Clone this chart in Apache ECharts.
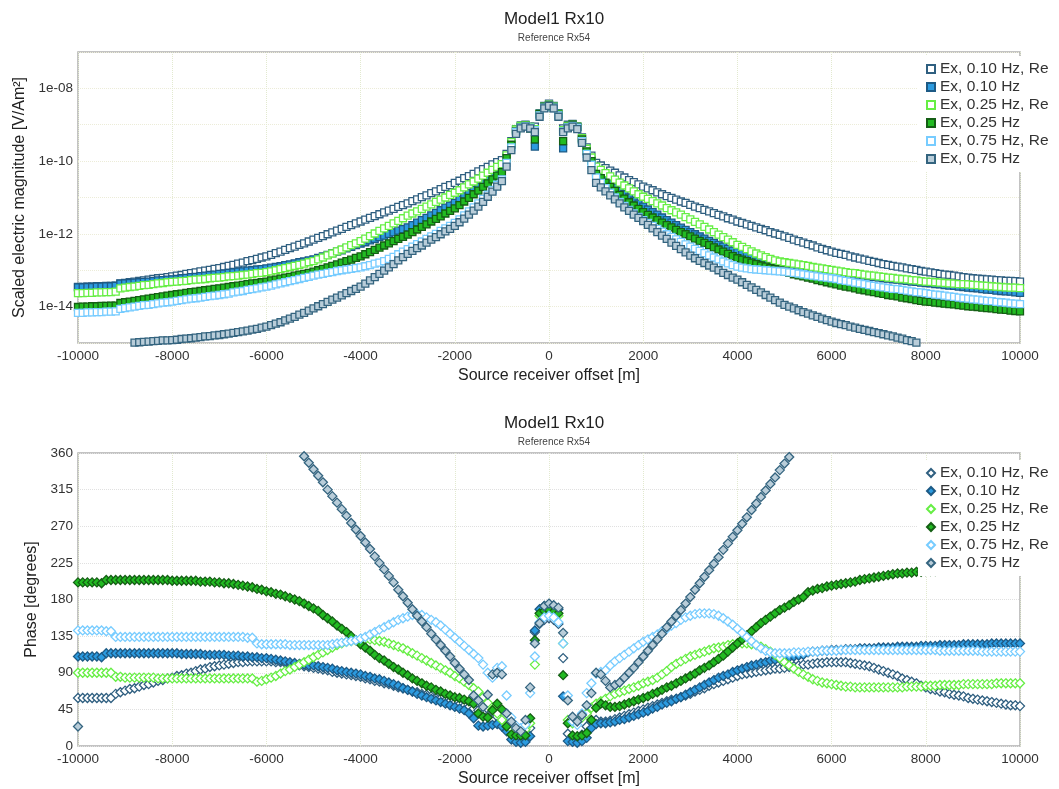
<!DOCTYPE html>
<html>
<head>
<meta charset="utf-8">
<script src="https://cdn.jsdelivr.net/npm/echarts@6/dist/echarts.min.js"></script>
<style>
html,body{margin:0;padding:0;background:#fff;}
#chart{width:1059px;height:789px;}
</style>
</head>
<body>
<div id="chart"></div>
<script>
// Source-receiver offsets [m]
const offsets = [
-10000,-9900,-9800,-9700,-9600,-9500,-9400,-9300,-9200,-9100,
-9000,-8900,-8800,-8700,-8600,-8500,-8400,-8300,-8200,-8100,
-8000,-7900,-7800,-7700,-7600,-7500,-7400,-7300,-7200,-7100,
-7000,-6900,-6800,-6700,-6600,-6500,-6400,-6300,-6200,-6100,
-6000,-5900,-5800,-5700,-5600,-5500,-5400,-5300,-5200,-5100,
-5000,-4900,-4800,-4700,-4600,-4500,-4400,-4300,-4200,-4100,
-4000,-3900,-3800,-3700,-3600,-3500,-3400,-3300,-3200,-3100,
-3000,-2900,-2800,-2700,-2600,-2500,-2400,-2300,-2200,-2100,
-2000,-1900,-1800,-1700,-1600,-1500,-1400,-1300,-1200,-1100,
-1000,-900,-800,-700,-600,-500,-400,-300,-200,-100,
0,100,200,300,400,500,600,700,800,900,
1000,1100,1200,1300,1400,1500,1600,1700,1800,1900,
2000,2100,2200,2300,2400,2500,2600,2700,2800,2900,
3000,3100,3200,3300,3400,3500,3600,3700,3800,3900,
4000,4100,4200,4300,4400,4500,4600,4700,4800,4900,
5000,5100,5200,5300,5400,5500,5600,5700,5800,5900,
6000,6100,6200,6300,6400,6500,6600,6700,6800,6900,
7000,7100,7200,7300,7400,7500,7600,7700,7800,7900,
8000,8100,8200,8300,8400,8500,8600,8700,8800,8900,
9000,9100,9200,9300,9400,9500,9600,9700,9800,9900,
10000];

const seriesNames = ['Ex, 0.10 Hz, Re','Ex, 0.10 Hz','Ex, 0.25 Hz, Re','Ex, 0.25 Hz','Ex, 0.75 Hz, Re','Ex, 0.75 Hz'];

// Magnitude, stored as log10 of |E| [V/Am^2]
const mag010Re = [
-13.46,-13.46,-13.45,-13.45,-13.44,-13.44,-13.43,-13.43,-13.42,-13.36,
-13.35,-13.33,-13.31,-13.29,-13.28,-13.26,-13.24,-13.22,-13.21,-13.19,
-13.17,-13.15,-13.13,-13.10,-13.08,-13.06,-13.03,-13.01,-12.99,-12.96,
-12.94,-12.91,-12.88,-12.85,-12.82,-12.79,-12.75,-12.72,-12.69,-12.65,
-12.62,-12.58,-12.53,-12.49,-12.44,-12.39,-12.35,-12.30,-12.26,-12.21,
-12.16,-12.11,-12.06,-12.01,-11.96,-11.91,-11.86,-11.81,-11.76,-11.71,
-11.66,-11.61,-11.56,-11.51,-11.46,-11.41,-11.36,-11.31,-11.26,-11.21,
-11.16,-11.10,-11.05,-10.99,-10.94,-10.88,-10.83,-10.77,-10.71,-10.66,
-10.60,-10.54,-10.47,-10.41,-10.35,-10.28,-10.22,-10.16,-10.09,-10.03,
-9.97,-9.80,-9.45,-9.12,-9.02,-9.00,-9.05,-9.05,-8.68,-8.48,
-8.42,-8.48,-8.68,-9.10,-9.00,-8.98,-9.05,-9.35,-9.62,-9.85,
-10.05,-10.12,-10.19,-10.26,-10.32,-10.39,-10.45,-10.52,-10.58,-10.64,
-10.70,-10.75,-10.80,-10.86,-10.91,-10.96,-11.01,-11.06,-11.11,-11.15,
-11.20,-11.25,-11.29,-11.34,-11.38,-11.43,-11.48,-11.52,-11.57,-11.61,
-11.66,-11.70,-11.74,-11.78,-11.82,-11.86,-11.90,-11.95,-11.99,-12.03,
-12.07,-12.11,-12.16,-12.20,-12.24,-12.28,-12.32,-12.37,-12.41,-12.45,
-12.49,-12.52,-12.55,-12.58,-12.62,-12.65,-12.68,-12.71,-12.74,-12.77,
-12.80,-12.83,-12.85,-12.88,-12.90,-12.92,-12.95,-12.97,-12.99,-13.02,
-13.04,-13.06,-13.08,-13.10,-13.12,-13.13,-13.15,-13.17,-13.19,-13.20,
-13.22,-13.23,-13.24,-13.25,-13.26,-13.27,-13.28,-13.29,-13.29,-13.30,
-13.31];

const mag010 = [
-13.47,-13.47,-13.46,-13.46,-13.45,-13.45,-13.44,-13.44,-13.43,-13.37,
-13.36,-13.35,-13.34,-13.33,-13.32,-13.31,-13.30,-13.28,-13.27,-13.26,
-13.25,-13.24,-13.22,-13.21,-13.19,-13.18,-13.16,-13.15,-13.13,-13.12,
-13.10,-13.09,-13.07,-13.06,-13.04,-13.03,-13.01,-13.00,-12.98,-12.97,
-12.95,-12.93,-12.91,-12.89,-12.86,-12.84,-12.81,-12.78,-12.76,-12.73,
-12.70,-12.66,-12.62,-12.58,-12.53,-12.49,-12.45,-12.40,-12.36,-12.31,
-12.27,-12.23,-12.18,-12.14,-12.09,-12.05,-12.00,-11.96,-11.91,-11.87,
-11.82,-11.76,-11.69,-11.62,-11.56,-11.49,-11.42,-11.35,-11.28,-11.22,
-11.15,-11.06,-10.97,-10.88,-10.79,-10.70,-10.60,-10.50,-10.40,-10.30,
-10.20,-9.88,-9.52,-9.16,-9.06,-9.02,-9.10,-9.60,-8.72,-8.52,
-8.48,-8.54,-8.74,-9.65,-9.08,-9.00,-9.06,-9.40,-9.72,-9.98,
-10.30,-10.41,-10.52,-10.62,-10.72,-10.82,-10.91,-11.00,-11.09,-11.17,
-11.25,-11.33,-11.40,-11.47,-11.55,-11.62,-11.69,-11.76,-11.83,-11.89,
-11.95,-12.01,-12.07,-12.13,-12.19,-12.25,-12.30,-12.35,-12.41,-12.46,
-12.50,-12.54,-12.57,-12.61,-12.64,-12.67,-12.70,-12.73,-12.75,-12.78,
-12.80,-12.83,-12.85,-12.88,-12.90,-12.92,-12.94,-12.97,-12.99,-13.01,
-13.03,-13.05,-13.07,-13.08,-13.10,-13.12,-13.13,-13.15,-13.17,-13.18,
-13.20,-13.22,-13.23,-13.25,-13.26,-13.28,-13.29,-13.31,-13.32,-13.34,
-13.35,-13.36,-13.38,-13.39,-13.41,-13.42,-13.43,-13.45,-13.46,-13.48,
-13.49,-13.50,-13.52,-13.53,-13.54,-13.56,-13.57,-13.58,-13.59,-13.61,
-13.62];

const mag025Re = [
-13.63,-13.63,-13.62,-13.62,-13.61,-13.61,-13.60,-13.60,-13.59,-13.50,
-13.48,-13.46,-13.45,-13.43,-13.41,-13.40,-13.38,-13.36,-13.35,-13.33,
-13.32,-13.31,-13.30,-13.29,-13.27,-13.26,-13.25,-13.24,-13.22,-13.21,
-13.20,-13.19,-13.17,-13.16,-13.15,-13.13,-13.12,-13.10,-13.08,-13.07,
-13.05,-13.03,-13.00,-12.97,-12.94,-12.91,-12.88,-12.85,-12.82,-12.78,
-12.75,-12.70,-12.65,-12.59,-12.54,-12.48,-12.43,-12.37,-12.31,-12.26,
-12.20,-12.13,-12.06,-11.99,-11.92,-11.85,-11.78,-11.71,-11.64,-11.57,
-11.50,-11.44,-11.38,-11.31,-11.25,-11.19,-11.12,-11.06,-11.00,-10.93,
-10.87,-10.80,-10.72,-10.64,-10.56,-10.48,-10.40,-10.32,-10.24,-10.16,
-10.08,-9.84,-9.48,-9.13,-9.03,-9.01,-9.06,-9.12,-8.70,-8.50,
-8.45,-8.50,-8.70,-9.15,-9.03,-9.00,-9.05,-9.37,-9.66,-9.90,
-10.15,-10.24,-10.33,-10.42,-10.51,-10.59,-10.67,-10.75,-10.83,-10.91,
-10.98,-11.04,-11.10,-11.16,-11.22,-11.29,-11.35,-11.41,-11.47,-11.54,
-11.60,-11.67,-11.74,-11.81,-11.88,-11.95,-12.02,-12.09,-12.16,-12.23,
-12.30,-12.36,-12.42,-12.48,-12.54,-12.59,-12.64,-12.69,-12.73,-12.76,
-12.78,-12.80,-12.82,-12.84,-12.86,-12.88,-12.91,-12.93,-12.95,-12.97,
-12.99,-13.01,-13.03,-13.05,-13.07,-13.08,-13.10,-13.12,-13.14,-13.15,
-13.17,-13.18,-13.20,-13.21,-13.23,-13.24,-13.25,-13.27,-13.28,-13.30,
-13.31,-13.32,-13.33,-13.34,-13.35,-13.36,-13.37,-13.38,-13.38,-13.39,
-13.40,-13.41,-13.42,-13.43,-13.44,-13.45,-13.46,-13.47,-13.48,-13.48,
-13.49];

const mag025 = [
-14.01,-14.00,-14.00,-13.99,-13.99,-13.98,-13.98,-13.97,-13.97,-13.90,
-13.88,-13.86,-13.84,-13.82,-13.80,-13.78,-13.76,-13.74,-13.72,-13.70,
-13.68,-13.66,-13.64,-13.62,-13.60,-13.59,-13.57,-13.55,-13.53,-13.51,
-13.50,-13.48,-13.46,-13.44,-13.42,-13.40,-13.38,-13.36,-13.35,-13.33,
-13.31,-13.28,-13.26,-13.23,-13.20,-13.18,-13.15,-13.12,-13.10,-13.07,
-13.04,-13.00,-12.96,-12.92,-12.88,-12.84,-12.79,-12.75,-12.71,-12.66,
-12.62,-12.56,-12.50,-12.44,-12.38,-12.32,-12.26,-12.20,-12.14,-12.08,
-12.02,-11.95,-11.88,-11.81,-11.74,-11.66,-11.59,-11.52,-11.44,-11.37,
-11.30,-11.21,-11.11,-11.01,-10.91,-10.81,-10.71,-10.61,-10.50,-10.40,
-10.30,-9.92,-9.55,-9.18,-9.07,-9.03,-9.10,-9.40,-8.71,-8.51,
-8.47,-8.52,-8.72,-9.45,-9.06,-9.00,-9.06,-9.40,-9.73,-10.00,
-10.35,-10.47,-10.59,-10.71,-10.82,-10.93,-11.03,-11.13,-11.22,-11.31,
-11.40,-11.48,-11.55,-11.62,-11.69,-11.76,-11.82,-11.89,-11.95,-12.01,
-12.07,-12.13,-12.19,-12.25,-12.31,-12.37,-12.43,-12.49,-12.55,-12.61,
-12.67,-12.71,-12.75,-12.79,-12.83,-12.87,-12.90,-12.94,-12.97,-13.01,
-13.04,-13.07,-13.11,-13.14,-13.17,-13.20,-13.23,-13.27,-13.30,-13.33,
-13.36,-13.39,-13.42,-13.45,-13.47,-13.50,-13.53,-13.55,-13.58,-13.60,
-13.63,-13.65,-13.68,-13.70,-13.72,-13.75,-13.77,-13.79,-13.82,-13.84,
-13.86,-13.87,-13.89,-13.90,-13.92,-13.93,-13.94,-13.96,-13.97,-13.99,
-14.00,-14.01,-14.03,-14.04,-14.05,-14.07,-14.08,-14.09,-14.11,-14.12,
-14.13];

const mag075Re = [
-14.17,-14.17,-14.16,-14.16,-14.15,-14.15,-14.14,-14.14,-14.13,-14.06,
-14.04,-14.02,-14.00,-13.98,-13.96,-13.95,-13.93,-13.91,-13.89,-13.88,
-13.86,-13.84,-13.82,-13.80,-13.78,-13.77,-13.75,-13.73,-13.71,-13.70,
-13.68,-13.66,-13.64,-13.61,-13.59,-13.57,-13.54,-13.52,-13.50,-13.47,
-13.45,-13.42,-13.39,-13.36,-13.33,-13.30,-13.27,-13.24,-13.21,-13.18,
-13.15,-13.12,-13.10,-13.07,-13.05,-13.02,-13.00,-12.98,-12.96,-12.94,
-12.92,-12.89,-12.86,-12.82,-12.79,-12.75,-12.69,-12.63,-12.56,-12.49,
-12.42,-12.35,-12.28,-12.21,-12.14,-12.07,-12.00,-11.92,-11.85,-11.78,
-11.70,-11.60,-11.49,-11.38,-11.27,-11.16,-11.04,-10.92,-10.79,-10.65,
-10.50,-10.05,-9.62,-9.20,-9.08,-9.04,-9.08,-9.15,-8.74,-8.53,
-8.48,-8.53,-8.74,-9.18,-9.07,-9.03,-9.08,-9.45,-9.80,-10.10,
-10.45,-10.60,-10.74,-10.87,-11.00,-11.12,-11.23,-11.34,-11.44,-11.53,
-11.62,-11.70,-11.78,-11.86,-11.94,-12.01,-12.08,-12.15,-12.22,-12.29,
-12.35,-12.41,-12.47,-12.53,-12.59,-12.65,-12.70,-12.76,-12.81,-12.86,
-12.90,-12.93,-12.95,-12.97,-12.98,-12.99,-13.00,-13.01,-13.02,-13.03,
-13.04,-13.06,-13.07,-13.09,-13.11,-13.13,-13.15,-13.17,-13.19,-13.20,
-13.22,-13.24,-13.27,-13.29,-13.31,-13.34,-13.36,-13.38,-13.41,-13.43,
-13.45,-13.47,-13.49,-13.51,-13.52,-13.54,-13.56,-13.58,-13.60,-13.61,
-13.63,-13.65,-13.67,-13.68,-13.70,-13.72,-13.73,-13.75,-13.77,-13.78,
-13.80,-13.81,-13.83,-13.84,-13.85,-13.87,-13.88,-13.89,-13.91,-13.92,
-13.93];

const mag075 = [
null,null,null,null,null,null,null,null,null,null,
null,null,-14.99,-14.98,-14.97,-14.96,-14.95,-14.94,-14.93,-14.93,
-14.92,-14.91,-14.89,-14.88,-14.87,-14.85,-14.84,-14.82,-14.81,-14.79,
-14.78,-14.76,-14.74,-14.72,-14.70,-14.68,-14.66,-14.63,-14.61,-14.58,
-14.55,-14.51,-14.47,-14.43,-14.38,-14.33,-14.28,-14.22,-14.17,-14.11,
-14.05,-13.99,-13.93,-13.87,-13.81,-13.75,-13.69,-13.63,-13.57,-13.51,
-13.45,-13.37,-13.28,-13.19,-13.10,-13.01,-12.92,-12.83,-12.73,-12.64,
-12.55,-12.47,-12.39,-12.32,-12.24,-12.16,-12.09,-12.01,-11.93,-11.86,
-11.78,-11.68,-11.58,-11.47,-11.36,-11.25,-11.12,-10.98,-10.84,-10.70,
-10.55,-10.15,-9.70,-9.25,-9.10,-9.05,-9.10,-9.20,-8.78,-8.55,
-8.48,-8.55,-8.78,-9.20,-9.10,-9.05,-9.12,-9.50,-9.90,-10.25,
-10.60,-10.72,-10.83,-10.94,-11.05,-11.16,-11.27,-11.37,-11.47,-11.56,
-11.65,-11.75,-11.85,-11.95,-12.05,-12.14,-12.24,-12.33,-12.42,-12.51,
-12.60,-12.67,-12.74,-12.80,-12.87,-12.93,-13.00,-13.07,-13.13,-13.20,
-13.26,-13.33,-13.40,-13.47,-13.54,-13.61,-13.68,-13.75,-13.82,-13.89,
-13.95,-14.00,-14.05,-14.10,-14.15,-14.19,-14.24,-14.28,-14.33,-14.37,
-14.41,-14.45,-14.48,-14.51,-14.55,-14.58,-14.61,-14.64,-14.67,-14.70,
-14.73,-14.76,-14.79,-14.82,-14.85,-14.88,-14.92,-14.95,-14.99,null,
null,null,null,null,null,null,null,null,null,null,
null,null,null,null,null,null,null,null,null,null,
null];

// Phase [degrees]
const ph010Re = [
59,59,59,59,59,59,59,59,64,66,
68,70,71,73,75,76,78,80,81,83,
84,86,87,89,90,92,94,95,97,98,
99,100,101,102,103,103,104,104,104,104,
104,104,103,103,102,101,100,99,98,97,
96,95,94,93,91,90,89,88,87,86,
85,83,82,80,79,77,76,74,72,71,
69,67,66,64,63,61,59,58,56,55,
53,51,49,48,46,44,40,37,33,36,
30,27,14,12,10,12,22,140,150,155,
157,155,150,108,15,10,10,14,24,30,
32,30,30,31,33,35,37,39,41,43,
45,47,49,51,53,55,57,58,60,62,
64,67,69,71,74,76,78,80,82,84,
86,88,89,90,91,92,93,94,95,95,
96,97,98,99,100,100,101,102,102,103,
103,103,103,103,102,101,100,99,98,96,
94,92,90,88,86,83,81,79,77,74,
72,70,69,67,66,64,63,62,61,59,
58,57,56,55,54,53,52,51,50,50,
49];

const ph010 = [
110,110,110,110,110,109,114,114,114,114,
114,114,114,114,114,114,114,114,114,114,
114,114,113,113,113,113,113,112,112,112,
112,112,111,111,111,110,110,109,109,108,
108,107,106,105,104,103,102,101,100,99,
99,98,97,96,95,93,92,91,90,89,
88,86,85,83,82,80,78,76,74,71,
69,67,64,62,60,58,56,54,52,50,
48,46,44,40,34,25,24,25,26,27,
24,18,8,5,4,5,12,142,168,172,
174,172,168,61,6,5,4,6,10,22,
27,28,28,29,30,32,33,35,37,39,
41,43,46,48,51,53,55,58,60,63,
66,69,72,75,78,81,84,86,88,91,
93,95,97,99,100,102,103,105,106,107,
108,109,110,111,112,115,116,116,117,117,
118,118,118,119,119,119,120,120,120,120,
121,121,121,121,122,122,122,122,122,123,
123,123,123,124,124,124,124,124,125,125,
125,125,125,125,126,126,126,126,126,126,
126];

const ph025Re = [
90,90,90,90,90,90,90,90,85,85,
84,84,84,84,84,84,84,83,83,83,
83,83,83,83,83,83,83,83,83,83,
83,83,83,83,83,83,83,83,79,80,
82,84,86,89,92,94,97,100,103,106,
109,112,115,118,121,124,126,128,129,130,
130,131,131,130,129,128,126,124,122,120,
117,114,111,108,105,102,99,96,93,90,
86,83,79,75,71,67,60,53,45,40,
32,26,22,20,18,20,28,100,160,164,
166,164,160,126,32,28,30,35,40,47,
52,55,58,61,64,66,68,70,72,74,
77,79,81,84,88,92,97,101,104,107,
110,112,114,116,118,120,121,122,124,125,
126,126,126,125,124,122,119,116,112,108,
103,99,95,91,88,85,82,80,78,77,
76,75,74,73,73,72,72,72,72,72,
72,72,72,72,72,72,73,73,73,73,
74,74,74,75,75,75,75,75,76,76,
76,76,76,76,76,77,77,77,77,77,
77];

const ph025 = [
201,201,201,201,201,200,204,204,204,204,
204,204,204,204,204,204,204,204,204,204,
203,203,203,203,203,203,202,202,202,201,
201,200,200,199,198,197,196,195,193,192,
190,189,187,186,184,182,180,178,175,172,
169,166,161,157,153,148,144,140,135,130,
125,121,117,112,108,105,101,97,94,90,
87,83,80,77,74,72,69,67,64,62,
60,59,57,55,52,40,36,35,44,52,
45,24,14,13,13,13,34,130,163,166,
167,165,163,87,28,13,12,13,16,32,
47,52,50,48,48,49,51,53,55,57,
59,61,64,66,69,72,74,77,80,83,
86,89,93,96,99,103,107,111,116,121,
126,131,136,141,146,151,155,159,163,167,
170,173,177,180,183,189,191,193,194,196,
197,198,199,200,201,202,204,205,206,207,
208,209,210,211,212,212,213,213,214,214,
215,215,215,216,216,216,216,217,217,217,
217,217,217,218,218,218,218,218,218,218,
218];

const ph075Re = [
142,142,142,142,142,142,141,141,134,134,
134,134,134,134,134,134,134,134,134,134,
134,134,134,134,134,134,134,134,134,134,
134,134,134,134,134,134,133,133,126,125,
125,125,125,125,125,124,124,124,124,124,
124,124,124,124,125,126,127,128,129,130,
132,134,137,140,143,146,149,152,155,157,
159,161,162,161,158,155,152,148,143,138,
133,128,123,118,113,108,100,90,84,96,
98,62,35,25,22,26,65,110,152,158,
160,158,152,126,62,30,26,40,65,77,
89,91,93,99,104,108,112,116,120,124,
128,131,134,137,141,144,148,151,155,158,
160,162,163,163,163,162,160,157,153,149,
144,139,134,129,124,120,117,115,114,114,
114,114,115,115,115,116,116,116,117,117,
117,117,118,118,118,118,118,118,118,118,
118,118,118,118,118,118,118,118,118,118,
118,118,118,117,117,117,117,117,117,117,
117,117,116,116,116,116,116,116,116,116,
116];

const ph075 = [
24,null,null,null,null,null,null,null,null,null,
null,null,null,null,null,null,null,null,null,null,
null,null,null,null,null,null,null,null,null,null,
null,null,null,null,null,null,null,null,null,null,
null,null,null,null,null,null,null,null,356,348,
340,332,324,315,307,299,291,283,274,266,
258,250,242,233,225,217,209,201,192,184,
176,168,160,153,146,138,131,124,117,110,
102,95,88,81,62,56,48,63,88,90,
88,40,30,22,18,32,72,126,151,172,
175,173,170,139,56,36,30,38,50,65,
90,88,80,72,75,78,84,90,96,103,
110,117,124,131,138,146,153,160,167,175,
183,192,200,208,216,224,232,241,249,257,
265,273,281,290,298,306,314,322,330,339,
347,355,null,null,null,null,null,null,null,null,
null,null,null,null,null,null,null,null,null,null,
null,null,null,null,null,null,null,null,null,null,
null,null,null,null,null,null,null,null,null,null,
null,null,null,null,null,null,null,null,null,null,
null];

const xTicks = [-10000,-8000,-6000,-4000,-2000,0,2000,4000,6000,8000,10000];
const phaseTicks = [0,45,90,135,180,225,270,315,360];

const magSeries = [mag010Re, mag010, mag025Re, mag025, mag075Re, mag075];
const phSeries = [ph010Re, ph010, ph025Re, ph025, ph075Re, ph075];

const styles = [
  {color:'#ffffff', borderColor:'#2f5f80'},
  {color:'#2c9be0', borderColor:'#1d5a85'},
  {color:'#ffffff', borderColor:'#66ee44'},
  {color:'#22bb22', borderColor:'#145f14'},
  {color:'#ffffff', borderColor:'#77ccff'},
  {color:'#b9cdd9', borderColor:'#34647f'}
];

const FONT = 'Liberation Sans';

function toMagPoints(arr){
  const out = [];
  arr.forEach((v,i)=>{ if(v!==null) out.push([offsets[i], Math.pow(10, v)]); });
  return out;
}
function toPhPoints(arr){
  const out = [];
  arr.forEach((v,i)=>{ if(v!==null) out.push([offsets[i], v]); });
  return out;
}

// minor log grid values (2..9 x 10^e)
const minorLog = [];
for (let e = -15; e <= -8; e++) for (let m = 2; m <= 9; m++) minorLog.push({yAxis: m*Math.pow(10,e)});

const series = [];
series.push({
  type:'scatter', xAxisIndex:0, yAxisIndex:0, data:[], z:1, silent:true,
  markLine:{silent:true, symbol:'none', label:{show:false}, animation:false,
    lineStyle:{color:'#f4f4d6', type:'solid', width:1}, data:minorLog}
});
magSeries.forEach((arr,k)=>{
  series.push({
    name: seriesNames[k], type:'scatter', xAxisIndex:0, yAxisIndex:0,
    symbol:'rect', symbolSize:7, data: toMagPoints(arr),
    itemStyle:{color:styles[k].color, borderColor:styles[k].borderColor, borderWidth:1.3, opacity:1},
    emphasis:{disabled:true}, animation:false
  });
});
phSeries.forEach((arr,k)=>{
  series.push({
    name: seriesNames[k], type:'scatter', xAxisIndex:1, yAxisIndex:1,
    symbol:'diamond', symbolSize:9, data: toPhPoints(arr),
    itemStyle:{color:styles[k].color, borderColor:styles[k].borderColor, borderWidth:1.3, opacity:1},
    emphasis:{disabled:true}, animation:false
  });
});

function xAxisCfg(idx){
  return {
    gridIndex: idx, type:'value', min:-10000, max:10000, interval:2000,
    name:'Source receiver offset [m]', nameLocation:'middle', nameGap:25,
    nameTextStyle:{fontSize:16, color:'#222', fontFamily:FONT},
    axisLine:{show:false}, axisTick:{show:false},
    axisLabel:{fontSize:13.5, color:'#333', margin:6, fontFamily:FONT,
      formatter: v => xTicks.includes(v) ? String(v) : ''},
    splitLine:{show:true, lineStyle:{color:'#e2e9cf', type:'dotted', width:1}}
  };
}

const legendCommon = {
  orient:'vertical', left:918, backgroundColor:'#ffffff',
  itemWidth:8, itemHeight:8, itemGap:2, selectedMode:false,
  padding:[5,10,5,8], borderWidth:0,
  textStyle:{fontSize:15.5, color:'#333', fontFamily:FONT, lineHeight:15}
};

const option = {
  backgroundColor:'#ffffff',
  animation:false,
  title:[
    {text:'Model1 Rx10', subtext:'Reference Rx54', left:549, top:6, textAlign:'center', itemGap:5,
     textStyle:{fontSize:17, fontWeight:'normal', color:'#222', fontFamily:FONT},
     subtextStyle:{fontSize:10, color:'#444', fontFamily:FONT}},
    {text:'Model1 Rx10', subtext:'Reference Rx54', left:549, top:410, textAlign:'center', itemGap:5,
     textStyle:{fontSize:17, fontWeight:'normal', color:'#222', fontFamily:FONT},
     subtextStyle:{fontSize:10, color:'#444', fontFamily:FONT}}
  ],
  legend:[
    Object.assign({}, legendCommon, {top:56, data: seriesNames.map(n=>({name:n, icon:'rect'}))}),
    Object.assign({}, legendCommon, {top:460, data: seriesNames.map(n=>({name:n, icon:'diamond'}))})
  ],
  grid:[
    {left:78, right:39, top:52, height:291, show:true, borderColor:'#b0b0b0', borderWidth:1.5, backgroundColor:'transparent'},
    {left:78, right:39, top:453, height:293, show:true, borderColor:'#b0b0b0', borderWidth:1.5, backgroundColor:'transparent'}
  ],
  xAxis:[xAxisCfg(0), xAxisCfg(1)],
  yAxis:[
    {gridIndex:0, type:'log', logBase:10, min:1e-15, max:1e-7, splitNumber:8,
     name:'Scaled electric magnitude [V/Am²]', nameLocation:'middle', nameGap:42,
     nameTextStyle:{fontSize:16, color:'#222', fontFamily:FONT},
     axisLine:{show:false}, axisTick:{show:false},
     axisLabel:{fontSize:13.5, color:'#333', margin:5, fontFamily:FONT,
       formatter: function(v){
         const e = Math.round(Math.log10(v));
         if (e % 2 !== 0) return '';
         return '1e-' + String(-e).padStart(2,'0');
       }},
     splitLine:{show:true, lineStyle:{color:'#ececd8', type:'dotted', width:1}}
    },
    {gridIndex:1, type:'value', min:0, max:360, interval:45,
     name:'Phase [degrees]', nameLocation:'middle', nameGap:30,
     nameTextStyle:{fontSize:16, color:'#222', fontFamily:FONT},
     axisLine:{show:false}, axisTick:{show:false},
     axisLabel:{fontSize:13.5, color:'#333', margin:5, fontFamily:FONT,
       formatter: v => phaseTicks.includes(v) ? String(v) : ''},
     splitLine:{show:true, lineStyle:{color:'#e0e0e0', type:'dotted', width:1}}
    }
  ],
  series: series
};

const chart = echarts.init(document.getElementById('chart'), null, {renderer:'canvas'});
chart.setOption(option);
</script>
</body>
</html>
